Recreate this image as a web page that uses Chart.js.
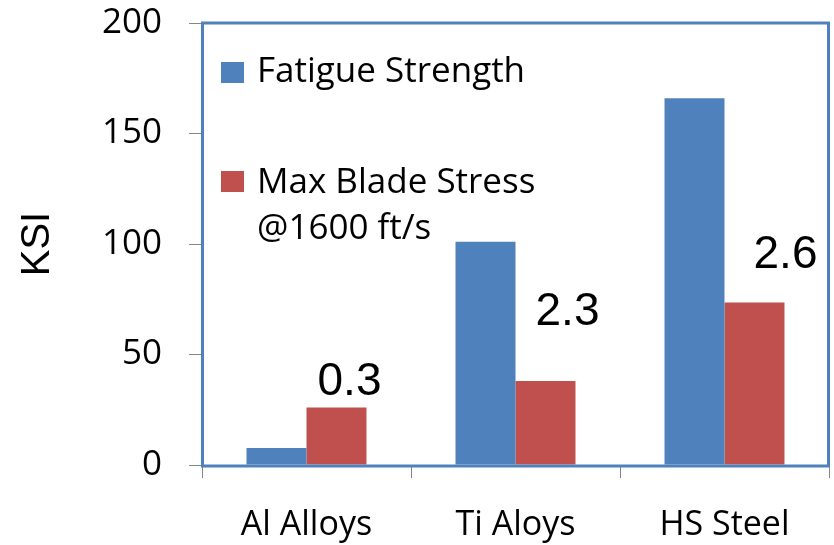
<!DOCTYPE html>
<html>
<head>
<meta charset="utf-8">
<script src="https://cdn.jsdelivr.net/npm/chart.js@4.4.1/dist/chart.umd.min.js"></script>
<style>
  html, body { margin: 0; padding: 0; background: #fff; }
  #wrap { width: 834px; height: 545px; }
</style>
</head>
<body>
<div id="wrap"><canvas id="myChart" width="834" height="545"></canvas></div>
<script>
// data
const categories = ['Al Alloys', 'Ti Aloys', 'HS Steel'];
const seriesNames = ['Fatigue Strength', ['Max Blade Stress', '@1600 ft/s']];
const fatigueStrength = [7.7, 101, 166];
const maxBladeStress = [26, 38, 73.5];
const ratioLabels = ['0.3', '2.3', '2.6'];
const ratioHeights = [31.7, 63.5, 89.3];   // KSI level where each ratio text sits
const yTicks = [0, 50, 100, 150, 200];

const blue = '#4f81bd';
const red = '#c0504d';
const tickGrey = '#868686';
const textFont = '"Open Sans", sans-serif';

// blue frame round the plot
const framePlugin = {
    id: 'frame',
    afterDraw(chart) {
        const { ctx, chartArea: a } = chart;
        ctx.save();
        ctx.strokeStyle = blue;
        ctx.lineWidth = 3;
        ctx.strokeRect(a.left + 0.5, a.top, a.right - a.left - 1, a.bottom - a.top + 1);
        ctx.restore();
    }
};

// ratio numbers above the red bars
const ratioPlugin = {
    id: 'ratios',
    afterDatasetsDraw(chart) {
        const { ctx } = chart;
        const bars = chart.getDatasetMeta(1).data;
        const shift = [13, 22, 31];
        ctx.save();
        ctx.fillStyle = '#000';
        ctx.font = '46px "Liberation Sans", Arial, sans-serif';
        ctx.textAlign = 'center';
        ctx.textBaseline = 'alphabetic';
        bars.forEach((bar, i) => {
            const y = chart.scales.y.getPixelForValue(ratioHeights[i]);
            ctx.fillText(ratioLabels[i], bar.x + shift[i], y);
        });
        ctx.restore();
    }
};

// legend inside the plot, top left
const legendPlugin = {
    id: 'insideLegend',
    afterDraw(chart) {
        const { ctx } = chart;
        const rows = [
            { color: blue, box: [221, 62], base: 82 },
            { color: red, box: [221, 171], base: 193 }
        ];
        ctx.save();
        ctx.font = '35px ' + textFont;
        ctx.textAlign = 'left';
        ctx.textBaseline = 'alphabetic';
        rows.forEach((r, i) => {
            ctx.fillStyle = r.color;
            ctx.fillRect(r.box[0], r.box[1], 23, 21);
            ctx.fillStyle = '#000';
            const lines = [].concat(seriesNames[i]);
            lines.forEach((t, j) => ctx.fillText(t, 257, r.base + j * 46));
        });
        ctx.restore();
    }
};

const data = {
    labels: categories,
    datasets: [{
        label: 'Fatigue Strength',
        data: fatigueStrength,
        backgroundColor: blue,
        barPercentage: 1,
        categoryPercentage: 0.574
    }, {
        label: 'Max Blade Stress @1600 ft/s',
        data: maxBladeStress,
        backgroundColor: red,
        barPercentage: 1,
        categoryPercentage: 0.574
    }]
};

const config = {
    type: 'bar',
    data: data,
    options: {
        responsive: false,
        animation: false,
        layout: { padding: { top: 23, right: 5, left: 0, bottom: 0 } },
        plugins: {
            legend: { display: false },
            tooltip: { enabled: false }
        },
        scales: {
            x: {
                afterFit: s => { s.height = 80; s.paddingLeft = 0; s.paddingRight = 0; },
                grid: {
                    display: true,
                    offset: true,
                    drawOnChartArea: false,
                    drawTicks: true,
                    tickLength: 13,
                    color: tickGrey
                },
                border: { display: false },
                ticks: {
                    color: '#000',
                    padding: 27,
                    font: { family: textFont, size: 34 }
                }
            },
            y: {
                min: 0,
                max: 200,
                afterFit: s => { s.width = 202; s.paddingTop = 0; s.paddingBottom = 0; },
                afterBuildTicks: s => { s.ticks = yTicks.map(v => ({ value: v })); },
                grid: {
                    display: true,
                    drawOnChartArea: false,
                    drawTicks: true,
                    tickLength: 13,
                    color: tickGrey
                },
                border: { display: false },
                ticks: {
                    color: '#000',
                    padding: 27,
                    font: { family: textFont, size: 35 }
                },
                title: {
                    display: true,
                    text: 'KSI',
                    color: '#000',
                    padding: { top: 14, bottom: 0 },
                    font: { family: '"Liberation Sans", Arial, sans-serif', size: 40 }
                }
            }
        }
    },
    plugins: [framePlugin, ratioPlugin, legendPlugin]
};

const myChart = new Chart(document.getElementById('myChart'), config);
</script>
</body>
</html>
